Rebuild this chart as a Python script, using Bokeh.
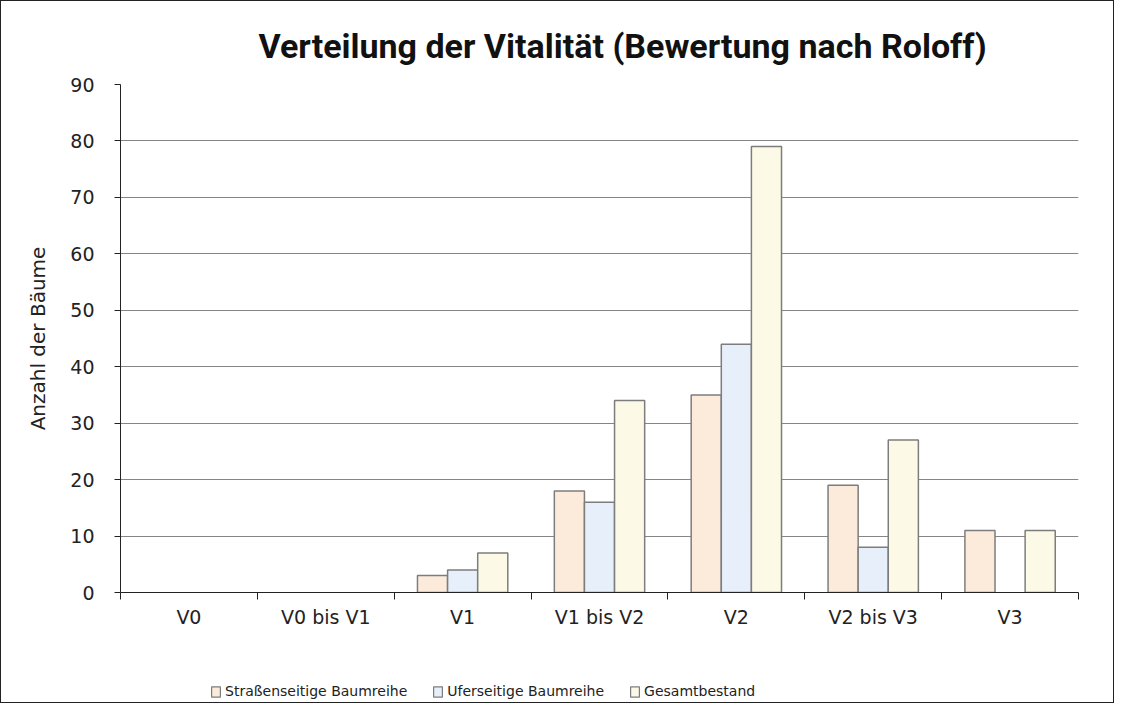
from bokeh.plotting import figure
from bokeh.layouts import column
from bokeh.models import ColumnDataSource, FixedTicker, Legend, LegendItem, Range1d
from bokeh.embed import file_html
from bokeh.resources import INLINE

# ---- data ----
categories = ["V0", "V0 bis V1", "V1", "V1 bis V2", "V2", "V2 bis V3", "V3"]
strassen = [0, 0, 3, 18, 35, 19, 11]
ufer = [0, 0, 4, 16, 44, 8, 0]
gesamt = [0, 0, 7, 34, 79, 27, 11]
series_names = ["Straßenseitige Baumreihe", "Uferseitige Baumreihe", "Gesamtbestand"]
y_ticks = [0, 10, 20, 30, 40, 50, 60, 70, 80, 90]

FONT = "DejaVu Sans"
TFONT = "Roboto"
colors = ["#FCEBDB", "#E7EFFA", "#FCFAE6"]
edge = "#7d7d7d"
bar_w = 0.22
offsets = [-bar_w, 0.0, bar_w]
W = 1112

p = figure(width=W, height=650, output_backend="svg", toolbar_location=None,
           x_range=Range1d(0, len(categories)), y_range=Range1d(0, 90),
           min_border_left=119, min_border_right=35, min_border_top=83, min_border_bottom=59)

p.title.text = "Verteilung der Vitalität  (Bewertung nach Roloff)"
p.title.align = "left"
p.title.offset = 138
p.title.text_font = TFONT
p.title.text_font_size = "34px"
p.title.text_font_style = "bold"
p.title.text_color = "#111111"
p.title.standoff = 38

p.outline_line_color = None
p.background_fill_color = "white"
p.border_fill_color = "white"

sources = []
for vals, col, off in zip([strassen, ufer, gesamt], colors, offsets):
    xs = [i + 0.5 + off for i, v in enumerate(vals) if v > 0]
    ys = [v for v in vals if v > 0]
    src = ColumnDataSource(dict(x=xs, top=ys))
    sources.append(src)
    p.vbar(x="x", top="top", width=bar_w, bottom=0, source=src,
           fill_color=col, line_color=edge, line_width=1.5)

# grid
p.xgrid.visible = False
p.ygrid.ticker = FixedTicker(ticks=y_ticks)
p.ygrid.grid_line_color = "#858585"
p.ygrid.grid_line_width = 1

# y axis
p.yaxis.ticker = FixedTicker(ticks=y_ticks)
p.yaxis.axis_label = "Anzahl der Bäume"
p.yaxis.axis_label_text_font = FONT
p.yaxis.axis_label_text_font_size = "20px"
p.yaxis.axis_label_text_font_style = "normal"
p.yaxis.axis_label_text_color = "#222222"
p.yaxis.axis_label_standoff = 17
p.yaxis.major_label_text_font = FONT
p.yaxis.major_label_text_font_size = "19px"
p.yaxis.major_label_text_color = "#222222"
p.yaxis.major_tick_out = 6
p.yaxis.major_tick_in = 0
p.yaxis.minor_tick_line_color = None
p.yaxis.major_label_standoff = 20
p.yaxis.axis_line_color = "#222222"
p.yaxis.major_tick_line_color = "#222222"

# x axis: labels at centres, ticks at boundaries
centers = [i + 0.5 for i in range(len(categories))]
bounds = list(range(len(categories) + 1))
p.xaxis.ticker = FixedTicker(ticks=centers, minor_ticks=bounds)
p.xaxis.major_label_overrides = {c: lab for c, lab in zip(centers, categories)}
p.xaxis.major_tick_line_color = None
p.xaxis.major_tick_out = 0
p.xaxis.minor_tick_out = 7
p.xaxis.minor_tick_in = 0
p.xaxis.minor_tick_line_color = "#222222"
p.xaxis.axis_line_color = "#222222"
p.xaxis.major_label_text_font = FONT
p.xaxis.major_label_text_font_size = "19px"
p.xaxis.major_label_text_color = "#222222"
p.xaxis.major_label_standoff = 6

# ---- legend strip below the chart ----
lg = figure(width=W, height=51, output_backend="svg", toolbar_location=None,
            x_range=Range1d(0, 1), y_range=Range1d(0, 1),
            min_border=0, min_border_left=0, min_border_right=0,
            min_border_top=0, min_border_bottom=0)
lg.axis.visible = False
lg.grid.visible = False
lg.outline_line_color = None
lg.border_fill_color = "white"
lg.background_fill_color = "white"

swatches = []
for src, col in zip(sources, colors):
    r = lg.vbar(x="x", top="top", width=bar_w, source=src, fill_color=col,
                line_color=edge, line_width=1.2, visible=False)
    swatches.append(r)

legend = Legend(items=[LegendItem(label=n, renderers=[r]) for n, r in zip(series_names, swatches)],
                orientation="horizontal", location=(90, 3))
legend.label_text_font = FONT
legend.label_text_font_size = "14px"
legend.label_text_color = "#222222"
legend.glyph_width = 11
legend.glyph_height = 13
legend.label_standoff = 4
legend.spacing = 25
legend.border_line_color = None
legend.background_fill_alpha = 0
legend.inactive_fill_alpha = 0
legend.padding = 3
legend.margin = 0
lg.add_layout(legend)

layout = column(p, lg, spacing=0)
layout.styles = {"border": "1px solid #222", "gap": "0px"}

open("out.html", "w").write(file_html(layout, INLINE))
